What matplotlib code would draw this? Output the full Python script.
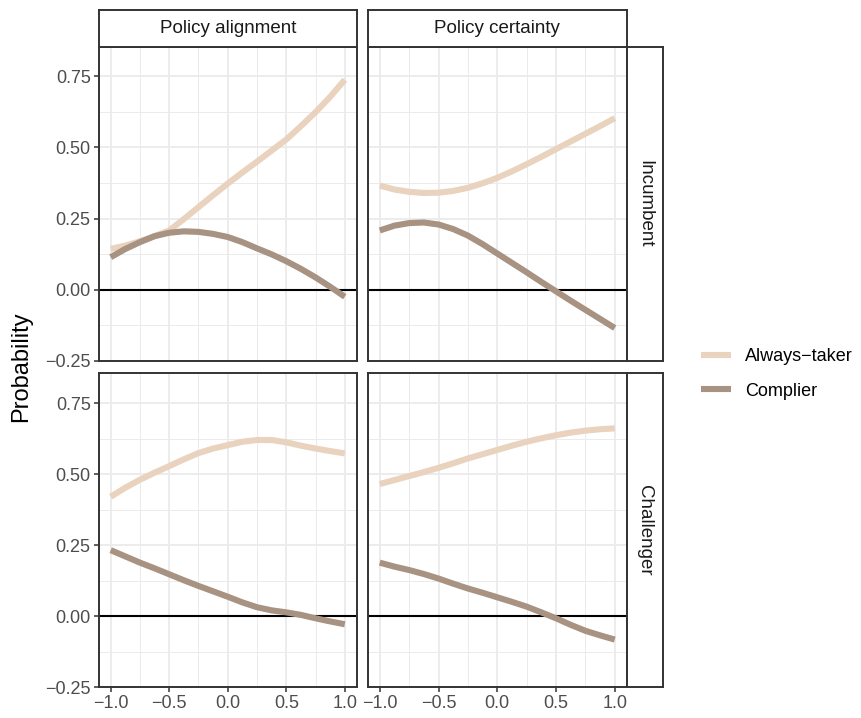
import matplotlib
matplotlib.use("Agg")
import matplotlib.pyplot as plt
from matplotlib.lines import Line2D
import numpy as np

plt.rcParams['font.family'] = ['Liberation Sans', 'DejaVu Sans']

# ---- data ----
x = [-1.0, -0.875, -0.75, -0.625, -0.5, -0.375, -0.25, -0.125, 0.0,
     0.125, 0.25, 0.375, 0.5, 0.625, 0.75, 0.875, 1.0]
col_labels = ["Policy alignment", "Policy certainty"]
row_labels = ["Incumbent", "Challenger"]
series_names = ["Always\u2212taker", "Complier"]
series_colors = ["#E9D2BE", "#A89282"]

# Incumbent / Policy alignment
inc_align_always = [0.143, 0.155, 0.170, 0.188, 0.208, 0.248, 0.290, 0.332, 0.373,
                    0.412, 0.450, 0.489, 0.528, 0.575, 0.624, 0.678, 0.738]
inc_align_complier = [0.114, 0.143, 0.167, 0.188, 0.200, 0.205, 0.203, 0.196, 0.185,
                      0.167, 0.145, 0.124, 0.100, 0.073, 0.043, 0.010, -0.025]
# Incumbent / Policy certainty
inc_cert_always = [0.366, 0.352, 0.344, 0.340, 0.341, 0.347, 0.358, 0.374, 0.393,
                   0.416, 0.441, 0.467, 0.494, 0.521, 0.548, 0.575, 0.603]
inc_cert_complier = [0.208, 0.225, 0.234, 0.236, 0.229, 0.213, 0.190, 0.160, 0.127,
                     0.094, 0.061, 0.027, -0.006, -0.039, -0.071, -0.103, -0.135]
# Challenger / Policy alignment
ch_align_always = [0.420, 0.452, 0.480, 0.505, 0.528, 0.552, 0.574, 0.590, 0.602,
                   0.614, 0.620, 0.620, 0.612, 0.600, 0.590, 0.581, 0.573]
ch_align_complier = [0.232, 0.210, 0.188, 0.168, 0.147, 0.126, 0.106, 0.087, 0.068,
                     0.048, 0.031, 0.020, 0.013, 0.004, -0.008, -0.019, -0.029]
# Challenger / Policy certainty
ch_cert_always = [0.465, 0.479, 0.493, 0.507, 0.522, 0.538, 0.555, 0.570, 0.585,
                  0.600, 0.614, 0.626, 0.637, 0.646, 0.653, 0.658, 0.661]
ch_cert_complier = [0.188, 0.174, 0.162, 0.148, 0.132, 0.114, 0.097, 0.082, 0.066,
                    0.050, 0.033, 0.013, -0.008, -0.031, -0.052, -0.068, -0.083]

panels = {
    (0, 0): (inc_align_always, inc_align_complier),
    (0, 1): (inc_cert_always, inc_cert_complier),
    (1, 0): (ch_align_always, ch_align_complier),
    (1, 1): (ch_cert_always, ch_cert_complier),
}

xticks = [-1.0, -0.5, 0.0, 0.5, 1.0]
xminor = [-0.75, -0.25, 0.25, 0.75]
yticks = [-0.25, 0.0, 0.25, 0.50, 0.75]
yminor = [-0.125, 0.125, 0.375, 0.625]

W, H = 861, 718
fig = plt.figure(figsize=(W / 100, H / 100), dpi=100)

col_x = [(99, 356.5), (368, 626.5)]
row_y = [(46.5, 360.7), (373.3, 687)]
border_c = "#333333"
LW = 4.4

def fx(px):
    return px / W

def fy(py):
    return 1 - py / H

ylim = (-0.25, 0.855)
xlim = (-1.1, 1.1)

for (r, c), (always, complier) in panels.items():
    x0, x1 = col_x[c]
    y0, y1 = row_y[r]
    ax = fig.add_axes([fx(x0), fy(y1), fx(x1) - fx(x0), fy(y0) - fy(y1)])
    ax.set_xlim(*xlim)
    ax.set_ylim(*ylim)
    ax.set_xticks(xticks)
    ax.set_xticks(xminor, minor=True)
    ax.set_yticks(yticks)
    ax.set_yticks(yminor, minor=True)
    ax.grid(True, which='major', color='#EBEBEB', linewidth=1.3, zorder=0)
    ax.grid(True, which='minor', color='#EBEBEB', linewidth=0.7, zorder=0)
    ax.set_axisbelow(True)
    ax.tick_params(which='minor', length=0)
    ax.tick_params(which='major', length=3.5, width=1.1, color=border_c,
                   labelsize=13, labelcolor='#4D4D4D', pad=2.5)
    for s in ax.spines.values():
        s.set_color(border_c)
        s.set_linewidth(1.4)
    ax.axhline(0, color='black', linewidth=1.5, zorder=2)
    ax.plot(x, always, color=series_colors[0], linewidth=LW,
            solid_capstyle='butt', solid_joinstyle='round', zorder=3)
    ax.plot(x, complier, color=series_colors[1], linewidth=LW,
            solid_capstyle='butt', solid_joinstyle='round', zorder=3)
    if c == 0:
        ax.set_yticklabels([f"{v:.2f}".replace("-", "\u2212") for v in yticks])
    else:
        ax.tick_params(axis='y', labelleft=False, length=0)
    if r == 1:
        ax.set_xticklabels([f"{v:.1f}".replace("-", "\u2212") for v in xticks])
    else:
        ax.tick_params(axis='x', labelbottom=False, length=0)

# column strips
for c, lab in enumerate(col_labels):
    x0, x1 = col_x[c]
    sax = fig.add_axes([fx(x0), fy(46.5), fx(x1) - fx(x0), fy(10) - fy(46.5)])
    sax.set_xticks([]); sax.set_yticks([])
    for s in sax.spines.values():
        s.set_color(border_c); s.set_linewidth(1.4)
    sax.text(0.5, 0.5, lab, ha='center', va='center', fontsize=13.5,
             color='#1A1A1A', transform=sax.transAxes)

# row strips
for r, lab in enumerate(row_labels):
    y0, y1 = row_y[r]
    sax = fig.add_axes([fx(626.5), fy(y1), fx(662.5) - fx(626.5), fy(y0) - fy(y1)])
    sax.set_xticks([]); sax.set_yticks([])
    for s in sax.spines.values():
        s.set_color(border_c); s.set_linewidth(1.4)
    sax.text(0.5, 0.5, lab, ha='center', va='center', fontsize=13.5,
             color='#1A1A1A', rotation=-90, transform=sax.transAxes)

# y label
fig.text(fx(21), fy(367), "Probability", rotation=90, ha='center',
         va='center', fontsize=17, color='black')

# legend
handles = [Line2D([0], [0], color=col, linewidth=LW, solid_capstyle='butt')
           for col in series_colors]
leg = fig.legend(handles, series_names, loc='center left',
                 bbox_to_anchor=(fx(687), fy(374)), frameon=False,
                 fontsize=13, handlelength=1.65, handletextpad=0.75,
                 labelspacing=0.95, borderpad=0.3)

fig.savefig("out.png", dpi=100)
